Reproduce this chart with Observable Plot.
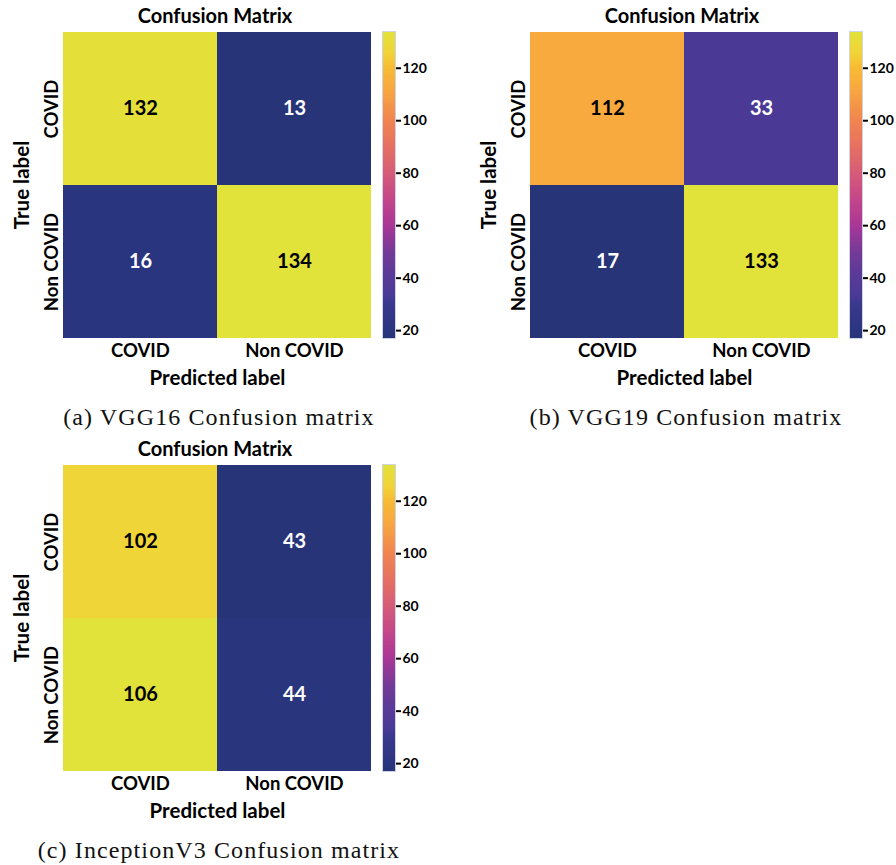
<!DOCTYPE html>
<html>
<head>
<meta charset="utf-8">
<script src="https://cdn.jsdelivr.net/npm/d3@7"></script>
<script src="https://cdn.jsdelivr.net/npm/@observablehq/plot@0.6"></script>
<style>
  body { margin: 0; background: #fff; }
  #fig { position: relative; width: 896px; height: 865px; background: #fff; overflow: hidden; }
  .panel { position: absolute; width: 440px; height: 432px; }
  .panel svg { position: absolute; overflow: visible; }
  .title { position: absolute; left: 0; width: 430px; top: 3px; text-align: center;
           font: bold 20px Lato, sans-serif; line-height: 24px; color: #000; }
  .caption { position: absolute; left: 0; width: 438px; text-align: center;
             font: 24px "Liberation Serif", serif; letter-spacing: 1.1px; line-height: 28px; color: #111; }
</style>
</head>
<body>
<div id="fig"></div>
<script>
// Class labels (rows = true label, columns = predicted label)
const labels = ["COVID", "Non COVID"];

// Confusion matrices
const vgg16 = [[132, 13], [16, 134]];
const vgg19 = [[112, 33], [17, 133]];
const inceptionV3 = [[102, 43], [106, 44]];

const captions = ["(a) VGG16 Confusion matrix", "(b) VGG19 Confusion matrix", "(c) InceptionV3 Confusion matrix"];

// Colour bar range and ticks
const barExtent = [17, 134];
const barTicks = [20, 40, 60, 80, 100, 120];

// Muted plasma-like ramp: positions (0..1) and colours
const rampT = [0, 0.026, 0.111, 0.137, 0.197, 0.282, 0.368, 0.453, 0.538, 0.624, 0.709, 0.812, 0.88, 0.93, 1];
const rampColors = ["#283478", "#2a3580", "#3a388e", "#4a3a96", "#573a98", "#763a98", "#aa3796",
                    "#c4468a", "#d65c78", "#e67062", "#f08550", "#f8a840", "#f7bb34", "#f1d438", "#e1e23a"];

const ramp = d3.scaleLinear().domain(rampT).range(rampColors).interpolate(d3.interpolateRgb).clamp(true);

function panel(left, top, matrix, caption) {
  const fig = document.getElementById("fig");
  const div = document.createElement("div");
  div.className = "panel";
  div.style.left = left + "px";
  div.style.top = top + "px";
  fig.appendChild(div);

  const title = document.createElement("div");
  title.className = "title";
  title.textContent = "Confusion Matrix";
  div.appendChild(title);

  const cells = [];
  matrix.forEach((row, i) => row.forEach((v, j) => cells.push({actual: labels[i], predicted: labels[j], count: v})));
  const [lo, hi] = d3.extent(cells, (d) => d.count);
  const isLight = (d) => d3.lab(ramp((d.count - lo) / (hi - lo))).l > 55;

  const heat = Plot.plot({
    width: 371, height: 365,
    marginLeft: 63, marginRight: 0, marginTop: 6, marginBottom: 52,
    style: {fontFamily: "Lato, sans-serif", fontWeight: "bold", fontSize: "18.5px", color: "#000", background: "transparent"},
    x: {domain: labels, padding: 0},
    y: {domain: labels, padding: 0},
    color: {type: "linear", domain: rampT.map((t) => lo + t * (hi - lo)), range: rampColors, interpolate: "rgb"},
    marks: [
      Plot.cell(cells, {x: "predicted", y: "actual", fill: "count", inset: 0}),
      Plot.text(cells.filter(isLight), {x: "predicted", y: "actual", text: "count", fill: "black", fontSize: 20, fontWeight: "bold"}),
      Plot.text(cells.filter((d) => !isLight(d)), {x: "predicted", y: "actual", text: "count", fill: "white", fontSize: 20, fontWeight: "bold"}),
      Plot.axisX({tickSize: 0, tickPadding: 5, label: "Predicted label", labelAnchor: "center", labelOffset: 46}),
      Plot.axisY({tickSize: 0, tickRotate: -90, tickPadding: 6, label: "True label", labelAnchor: "center", labelOffset: 49})
    ]
  });
  // axis titles are set a little larger than the tick labels
  heat.querySelectorAll('[aria-label="x-axis label"] text, [aria-label="y-axis label"] text')
      .forEach((t) => t.setAttribute("font-size", "20.5px"));
  heat.querySelectorAll('[aria-label="x-axis label"], [aria-label="y-axis label"]')
      .forEach((g) => g.setAttribute("font-size", "20.5px"));
  heat.style.left = "0px";
  heat.style.top = "25px";
  div.appendChild(heat);

  const step = 0.5;
  const bands = d3.range(barExtent[0], barExtent[1], step);
  const bar = Plot.plot({
    width: 50, height: 365,
    marginLeft: 0, marginRight: 37, marginTop: 6, marginBottom: 52,
    style: {fontFamily: "Lato, sans-serif", fontWeight: "bold", fontSize: "14px", color: "#000", background: "transparent"},
    x: {domain: [0, 1], axis: null},
    y: {domain: barExtent},
    color: {type: "linear", domain: rampT.map((t) => barExtent[0] + t * (barExtent[1] - barExtent[0])), range: rampColors, interpolate: "rgb"},
    marks: [
      Plot.rect(bands, {x1: 0, x2: 1, y1: (d) => d, y2: (d) => Math.min(d + step * 1.6, barExtent[1]), fill: (d) => d + step / 2, shapeRendering: "crispEdges"}),
      Plot.frame({stroke: "#cfd4e4"}),
      Plot.axisY({anchor: "right", ticks: barTicks, tickSize: 5, tickPadding: 2, strokeWidth: 2, label: null})
    ]
  });
  bar.style.left = "382px";
  bar.style.top = "25px";
  div.appendChild(bar);

  const cap = document.createElement("div");
  cap.className = "caption";
  cap.textContent = caption;
  cap.style.top = "403px";
  div.appendChild(cap);
}

panel(0, 0, vgg16, captions[0]);
panel(467, 0, vgg19, captions[1]);
panel(0, 433, inceptionV3, captions[2]);
</script>
</body>
</html>
